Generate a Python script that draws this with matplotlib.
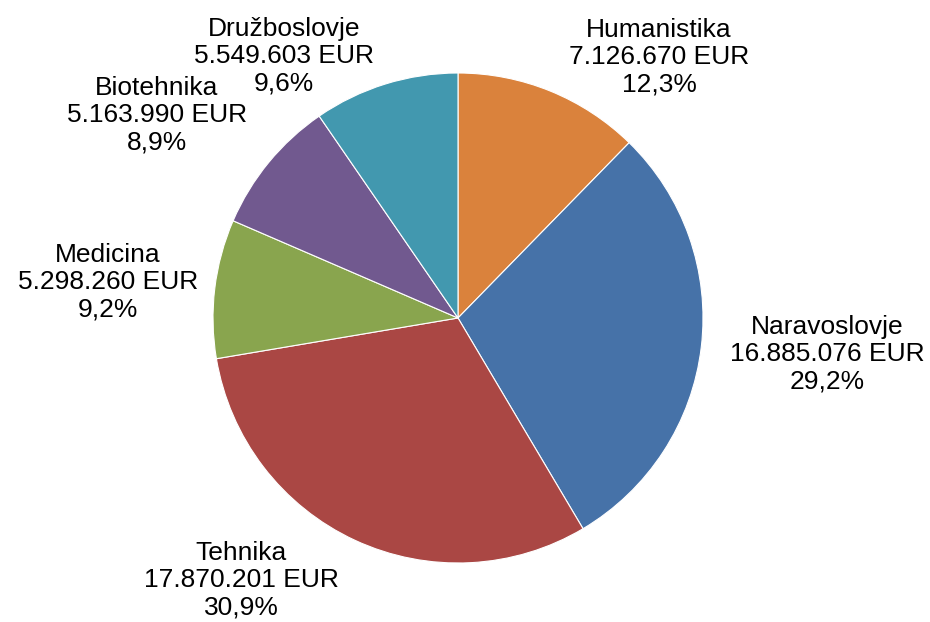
import matplotlib
matplotlib.use("Agg")
import matplotlib.pyplot as plt

categories = ["Humanistika", "Naravoslovje", "Tehnika", "Medicina", "Biotehnika", "Družboslovje"]
values = [7126670, 16885076, 17870201, 5298260, 5163990, 5549603]
colors = ["#DA823C", "#4672A8", "#AA4744", "#89A54E", "#71598F", "#4298AF"]
# label centres in pixel coordinates (layout only)
label_px = [(659, 57), (827, 354), (241, 580), (108, 282), (157, 115), (284, 56)]

plt.rcParams['font.family'] = ['Liberation Sans', 'DejaVu Sans']

W, H = 930, 622
cx, cy, R = 458, 318, 245
fig = plt.figure(figsize=(W / 100, H / 100), dpi=100)
ax = fig.add_axes([0, 0, 1, 1])
ax.pie(values, colors=colors, startangle=90, counterclock=False, radius=1,
       wedgeprops=dict(edgecolor="white", linewidth=0.8))
ax.set_xlim(-cx / R, (W - cx) / R)
ax.set_ylim(-(H - cy) / R, cy / R)
ax.set_aspect("auto")
ax.axis("off")

total = sum(values)
def fmt_int(v):
    return f"{v:,}".replace(",", ".")

for name, v, (px, py) in zip(categories, values, label_px):
    pct = f"{100 * v / total:.1f}".replace(".", ",")
    ax.text((px - cx) / R, (cy - py) / R, f"{name}\n{fmt_int(v)} EUR\n{pct}%",
            ha="center", va="center", fontsize=19, color="black", linespacing=1.17)

fig.savefig("out.png", dpi=100, facecolor="white")
